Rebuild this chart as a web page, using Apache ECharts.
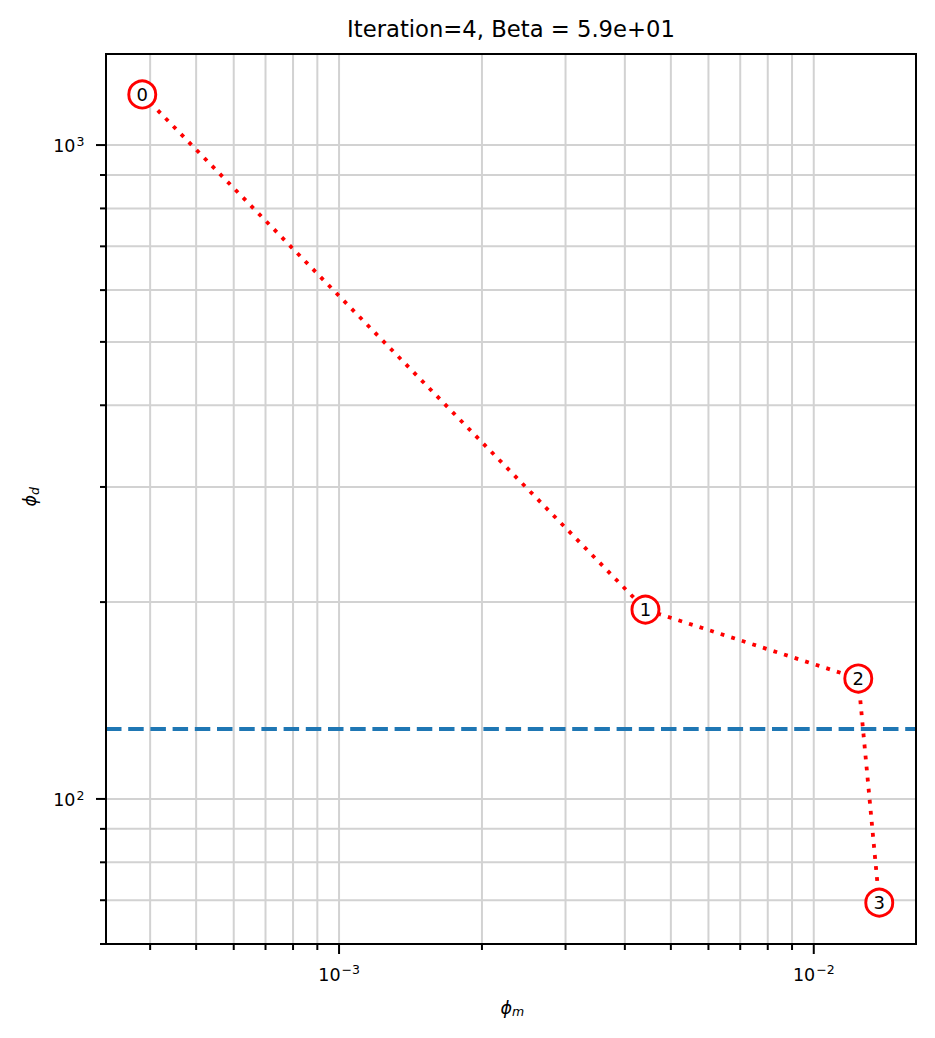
<!DOCTYPE html>
<html><head><meta charset="utf-8">
<script src="https://cdn.jsdelivr.net/npm/echarts@6/dist/echarts.min.js"></script>
<style>html,body{margin:0;padding:0;background:#fff}#c{width:935px;height:1038px}</style>
</head><body><div id="c"></div>
<script>
// ---- data ----
const iterLabels = ['0', '1', '2', '3'];
const phiM = [3.85e-4, 4.42e-3, 1.241e-2, 1.374e-2];
const phiD = [1195, 194.8, 152.8, 69.4];
const targetPhiD = 128.2;
const titleText = 'Iteration=4, Beta = 5.9e+01';
const xName = ['\u03d5', 'm'];
const yName = ['\u03d5', 'd'];
const xRange = [3.229e-4, 1.642e-2];
const yRange = [60, 1378];
const xMajorTicks = [1e-3, 1e-2];
const xMajorExponents = ['\u22123', '\u22122'];
const xMinorTicks = [4e-4, 5e-4, 6e-4, 7e-4, 8e-4, 9e-4, 2e-3, 3e-3, 4e-3, 5e-3, 6e-3, 7e-3, 8e-3, 9e-3];
const yMajorTicks = [1e2, 1e3];
const yMajorExponents = ['2', '3'];
const yMinorTicks = [60, 70, 80, 90, 200, 300, 400, 500, 600, 700, 800, 900];

const FONT = '"DejaVu Sans", sans-serif';
const GRID_COLOR = '#d2d2d2';

function txt(x, y, text, size, align, vAlign, italic) {
  return {
    type: 'text', x: x, y: y,
    style: {
      text: text, fill: '#000', fontSize: size, fontFamily: FONT,
      fontStyle: italic ? 'italic' : 'normal',
      align: align, textAlign: align, verticalAlign: vAlign, textVerticalAlign: vAlign
    }
  };
}

function renderGridLines(params, api) {
  const bl = api.coord([xRange[0], yRange[0]]);
  const tr = api.coord([xRange[1], yRange[1]]);
  const L = bl[0], B = bl[1], R = tr[0], T = tr[1];
  const children = [];
  xMajorTicks.concat(xMinorTicks).forEach(v => {
    const px = api.coord([v, yRange[0]])[0];
    children.push({type: 'line', shape: {x1: px, y1: T, x2: px, y2: B}, style: {stroke: GRID_COLOR, lineWidth: 2}});
  });
  yMajorTicks.concat(yMinorTicks).forEach(v => {
    const py = api.coord([xRange[0], v])[1];
    children.push({type: 'line', shape: {x1: L, y1: py, x2: R, y2: py}, style: {stroke: GRID_COLOR, lineWidth: 2}});
  });
  return {type: 'group', children: children};
}

function renderAxes(params, api) {
  const bl = api.coord([xRange[0], yRange[0]]);
  const tr = api.coord([xRange[1], yRange[1]]);
  const L = bl[0], B = bl[1], R = tr[0], T = tr[1];
  const children = [];
  const tickStyle = {stroke: '#000', lineWidth: 2};
  // x ticks
  xMajorTicks.forEach((v, i) => {
    const px = api.coord([v, yRange[0]])[0];
    children.push({type: 'line', shape: {x1: px, y1: B, x2: px, y2: B + 10}, style: tickStyle});
    children.push(txt(px + 1.5, B + 30.5, '10', 17.5, 'right', 'middle'));
    children.push(txt(px + 2.5, B + 25, xMajorExponents[i], 12.5, 'left', 'middle'));
  });
  xMinorTicks.forEach(v => {
    const px = api.coord([v, yRange[0]])[0];
    children.push({type: 'line', shape: {x1: px, y1: B, x2: px, y2: B + 6}, style: tickStyle});
  });
  // y ticks
  yMajorTicks.forEach((v, i) => {
    const py = api.coord([xRange[0], v])[1];
    children.push({type: 'line', shape: {x1: L - 10, y1: py, x2: L, y2: py}, style: tickStyle});
    children.push(txt(L - 30.5, py + 1.3, '10', 17.5, 'right', 'middle'));
    children.push(txt(L - 21.5, py - 3.8, yMajorExponents[i], 12.5, 'right', 'middle'));
  });
  yMinorTicks.forEach(v => {
    const py = api.coord([xRange[0], v])[1];
    children.push({type: 'line', shape: {x1: L - 6, y1: py, x2: L, y2: py}, style: tickStyle});
  });
  // frame
  children.push({type: 'rect', shape: {x: L, y: T, width: R - L, height: B - T},
    style: {fill: 'none', stroke: '#000', lineWidth: 2}});
  // axis names
  const cx = (L + R) / 2, cy = (T + B) / 2;
  children.push(txt(cx + 1, B + 63.5, xName[0], 17.5, 'right', 'middle', true));
  children.push(txt(cx + 1, B + 67.5, xName[1], 12.5, 'left', 'middle', true));
  children.push({
    type: 'group', x: L - 76, y: cy, rotation: Math.PI / 2,
    children: [
      txt(4, 0, yName[0], 17.5, 'right', 'middle', true),
      txt(4, 4, yName[1], 12.5, 'left', 'middle', true)
    ]
  });
  return {type: 'group', children: children};
}

const chart = echarts.init(document.getElementById('c'), null, {renderer: 'svg'});
chart.setOption({
  animation: false,
  backgroundColor: '#fff',
  title: {show: false},
  graphic: [{
    type: 'text', x: 511, y: 28.5, silent: true,
    style: {text: titleText, fill: '#000', fontSize: 22.7, fontFamily: FONT,
      align: 'center', textAlign: 'center', verticalAlign: 'middle', textVerticalAlign: 'middle'}
  }],
  grid: {left: 106, right: 19, top: 54, bottom: 94, containLabel: false, outerBoundsMode: 'none', show: false},
  xAxis: {
    type: 'log', logBase: 10, min: xRange[0], max: xRange[1],
    axisLine: {show: false}, axisTick: {show: false}, axisLabel: {show: false},
    splitLine: {show: false}, minorTick: {show: false}, minorSplitLine: {show: false}
  },
  yAxis: {
    type: 'log', logBase: 10, min: yRange[0], max: yRange[1],
    axisLine: {show: false}, axisTick: {show: false}, axisLabel: {show: false},
    splitLine: {show: false}, minorTick: {show: false}, minorSplitLine: {show: false}
  },
  series: [
    {
      type: 'custom', silent: true, z: 1, clip: false,
      data: [[xRange[0], yRange[0]]], renderItem: renderGridLines
    },
    {
      type: 'line', silent: true, z: 2, data: [], symbol: 'none',
      markLine: {
        silent: true, symbol: 'none', label: {show: false},
        lineStyle: {color: '#1f77b4', width: 4, type: [15.5, 6.7]},
        emphasis: {disabled: true},
        data: [{yAxis: targetPhiD}]
      }
    },
    {
      type: 'line', silent: true, z: 3,
      data: phiM.map((x, i) => [x, phiD[i]]),
      lineStyle: {color: '#ff0000', width: 3.8, type: [3.8, 7.3]},
      symbol: 'circle', symbolSize: 27,
      itemStyle: {color: '#ffffff', borderColor: '#ff0000', borderWidth: 2.9},
      label: {
        show: true, position: 'inside', color: '#000', fontSize: 18, fontFamily: FONT,
        formatter: p => iterLabels[p.dataIndex]
      },
      emphasis: {disabled: true}
    },
    {
      type: 'custom', silent: true, z: 10, clip: false,
      data: [[xRange[0], yRange[0]]], renderItem: renderAxes
    }
  ]
});
</script>
</body></html>
